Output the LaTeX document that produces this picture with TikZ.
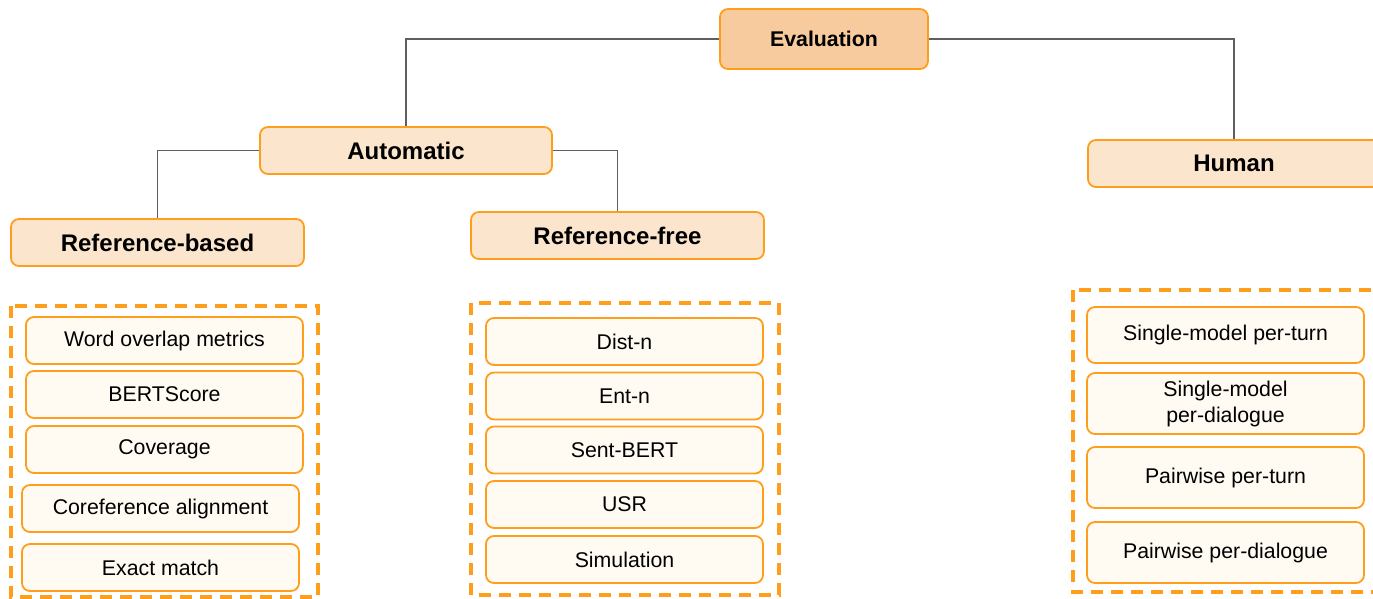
\documentclass[tikz,border=0pt]{standalone}
\usepackage{fontspec}
\setmainfont{Liberation Sans}
\definecolor{orangeline}{HTML}{FF9E1B}
\definecolor{topfill}{HTML}{F8CB9E}
\definecolor{catfill}{HTML}{FCE5CD}
\definecolor{itemfill}{HTML}{FFFBF3}
\definecolor{conn}{HTML}{5F5F5F}
\tikzset{
  base/.style={draw=orangeline, line width=1.8pt, rounded corners=8pt, inner sep=0pt, align=center},
  topbox/.style={base, fill=topfill, font=\fontsize{21.3}{25}\selectfont\bfseries},
  catbox/.style={base, fill=catfill, font=\fontsize{24}{28}\selectfont\bfseries},
  itembox/.style={base, fill=itemfill, font=\fontsize{21.3}{26}\selectfont},
  group/.style={draw=orangeline, line width=3.5pt, dash pattern=on 12pt off 8pt},
  link/.style={draw=conn, line width=1.8pt}
}
\begin{document}
\begin{tikzpicture}[x=1pt,y=-1pt]
\useasboundingbox (0,0) rectangle (1373,599);
\clip (0,0) rectangle (1373,599);
% top
\node[topbox, minimum width=208pt, minimum height=60pt] (eval) at (824,39) {Evaluation};
\node[catbox, minimum width=292pt, minimum height=47pt] (auto) at (406,150.5) {Automatic};
\node[catbox, minimum width=292pt, minimum height=47pt] (human) at (1234,163.5) {Human};
\node[catbox, minimum width=293pt, minimum height=47pt] (refb) at (157.5,242.5) {Reference-based};
\node[catbox, minimum width=293pt, minimum height=47pt] (reff) at (617.5,235.5) {Reference-free};
% connectors
\draw[link] (eval.west) -| (auto.north);
\draw[link] (eval.east) -| (human.north);
\draw[link] (auto.west) -| (refb.north);
\draw[link] (auto.east) -| (reff.north);
% dashed groups
\draw[group] (11,306) rectangle (318,597);
\draw[group] (471,303) rectangle (779,595);
\draw[group] (1073,290) rectangle (1390,592);
% left items
\node[itembox, minimum width=277pt, minimum height=47pt] (w1) at (164.5,340.5) {Word overlap metrics};
\node[itembox, minimum width=277pt, minimum height=47pt] (w2) at (164.5,394.5) {BERTScore};
\node[itembox, minimum width=277pt, minimum height=47pt] (w3) at (164.5,449.5) {Coverage};
\node[itembox, minimum width=277pt, minimum height=47pt] (w4) at (160.5,508.5) {Coreference alignment};
\node[itembox, minimum width=277pt, minimum height=47pt] (w5) at (160.5,567.5) {Exact match};
% middle items
\node[itembox, minimum width=277pt, minimum height=47pt] (m1) at (624.5,341.5) {Dist-n};
\node[itembox, minimum width=277pt, minimum height=47pt] (m2) at (624.5,396) {Ent-n};
\node[itembox, minimum width=277pt, minimum height=47pt] (m3) at (624.5,450) {Sent-BERT};
\node[itembox, minimum width=277pt, minimum height=47pt] (m4) at (624.5,504.5) {USR};
\node[itembox, minimum width=277pt, minimum height=47pt] (m5) at (624.5,559.5) {Simulation};
% right items
\node[itembox, minimum width=277pt, minimum height=56pt] (h1) at (1225.5,335) {Single-model per-turn};
\node[itembox, minimum width=277pt, minimum height=61pt] (h2) at (1225.5,403.5) {Single-model\\per-dialogue};
\node[itembox, minimum width=277pt, minimum height=61pt] (h3) at (1225.5,477.5) {Pairwise per-turn};
\node[itembox, minimum width=277pt, minimum height=61pt] (h4) at (1225.5,552.5) {Pairwise per-dialogue};
\end{tikzpicture}
\end{document}
